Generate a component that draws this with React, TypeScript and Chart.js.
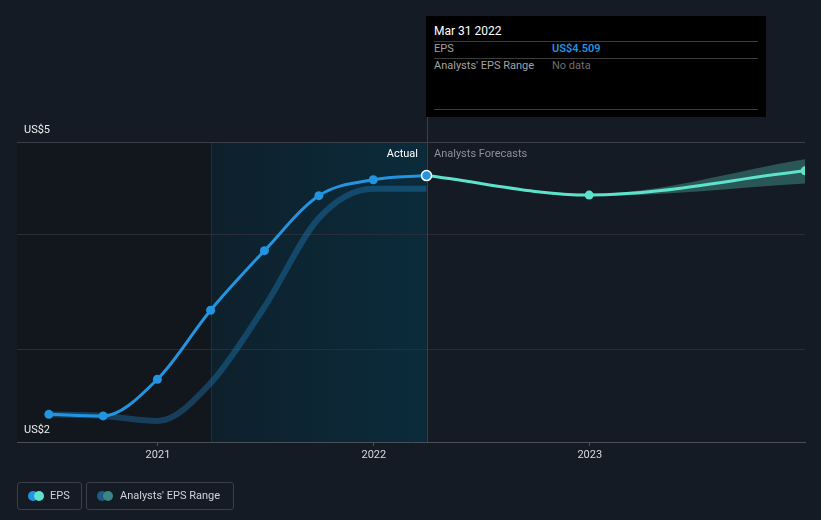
import React, { useEffect, useRef } from "react";
import { Chart, registerables } from "chart.js";

Chart.register(...registerables);

// ---------- data ----------
const epsDates = ["2020-06-30", "2020-09-30", "2020-12-31", "2021-03-31", "2021-06-30", "2021-09-30", "2021-12-31", "2022-03-31"];
const epsValues = [2.44, 2.426, 2.744, 3.342, 3.858, 4.335, 4.473, 4.509];
const pastRangeValues = [2.44, 2.426, 2.382, 2.71, 3.37, 4.14, 4.395, 4.395];

const forecastDates = ["2022-03-31", "2022-12-31", "2023-12-31"];
const forecastValues = [4.509, 4.34, 4.55];
const forecastLow = [4.509, 4.33, 4.44];
const forecastHigh = [4.509, 4.35, 4.65];

const yearTicks = [2021, 2022, 2023];
const yGridValues = [3, 4];
const Y_MIN = 2.2;
const Y_MAX = 4.8;
const yLabelBottom = "US$2";
const yLabelTop = "US$5";
const X_MIN = 2020.347;
const X_MAX = 2023.997;
const highlightStart = "2021-03-31";
const highlightEnd = "2022-03-31";

// ---------- styles ----------
const BG = "#151b24";
const PAST_BG = "#12161d";
const EPS_BLUE = "#2394df";
const MINT = "#5de3cb";
const FONT = "Roboto, 'Noto Sans', sans-serif";
const TIP = { left: 426, top: 16, width: 340, height: 101 };

function toYear(d: string): number {
  const [y, m, day] = d.split("-").map(Number);
  const t = Date.UTC(y, m - 1, day);
  const s = Date.UTC(y, 0, 1);
  const e = Date.UTC(y + 1, 0, 1);
  return y + (t - s) / (e - s);
}

const bgPlugin = {
  id: "bgRegions",
  beforeDraw(chart: any) {
    const { ctx, chartArea } = chart;
    const xs = chart.scales.x;
    const x0 = xs.getPixelForValue(toYear(highlightStart));
    const x1 = xs.getPixelForValue(toYear(highlightEnd));
    ctx.save();
    ctx.fillStyle = PAST_BG;
    ctx.fillRect(chartArea.left, chartArea.top, x0 - chartArea.left, chartArea.bottom - chartArea.top);
    const g = ctx.createLinearGradient(x0, 0, x1, 0);
    g.addColorStop(0, "#0e202c");
    g.addColorStop(1, "#0b2b3b");
    ctx.fillStyle = g;
    ctx.fillRect(x0, chartArea.top, x1 - x0, chartArea.bottom - chartArea.top);
    ctx.strokeStyle = "#14303d";
    ctx.lineWidth = 1;
    ctx.beginPath();
    ctx.moveTo(Math.round(x0) + 0.5, chartArea.top);
    ctx.lineTo(Math.round(x0) + 0.5, chartArea.bottom);
    ctx.stroke();
    ctx.restore();
  },
  beforeDatasetsDraw(chart: any) {
    const { ctx, chartArea } = chart;
    const x1 = chart.scales.x.getPixelForValue(toYear(highlightEnd));
    ctx.save();
    ctx.strokeStyle = "#1b4a5e";
    ctx.lineWidth = 1;
    ctx.beginPath();
    ctx.moveTo(Math.round(x1) + 0.5, TIP.top + TIP.height);
    ctx.lineTo(Math.round(x1) + 0.5, chartArea.bottom);
    ctx.stroke();
    ctx.restore();
  },
};

export default function App() {
  const ref = useRef<HTMLCanvasElement>(null);

  useEffect(() => {
    if (!ref.current) return;
    const ex = epsDates.map(toYear);
    const fx = forecastDates.map(toYear);
    const last = epsValues.length - 1;
    const chart = new Chart(ref.current, {
      type: "line",
      data: {
        datasets: [
          {
            label: "EPS",
            data: ex.map((x, i) => ({ x, y: epsValues[i] })),
            borderColor: EPS_BLUE,
            backgroundColor: EPS_BLUE,
            borderWidth: 3,
            cubicInterpolationMode: "monotone",
            pointRadius: epsValues.map((_, i) => (i === last ? 5 : 4.5)),
            pointBackgroundColor: EPS_BLUE,
            pointBorderColor: epsValues.map((_, i) => (i === last ? "#ffffff" : EPS_BLUE)),
            pointBorderWidth: epsValues.map((_, i) => (i === last ? 1.5 : 0)),
            order: 1,
          },
          {
            label: "Past range",
            data: ex.map((x, i) => ({ x, y: pastRangeValues[i] })),
            borderColor: "rgba(35,148,223,0.32)",
            borderWidth: 6,
            pointRadius: 0,
            cubicInterpolationMode: "monotone",
            fill: false,
            order: 4,
          },
          {
            label: "Low",
            data: fx.map((x, i) => ({ x, y: forecastLow[i] })),
            borderWidth: 0,
            borderColor: "rgba(0,0,0,0)",
            pointRadius: 0,
            cubicInterpolationMode: "monotone",
            fill: false,
            order: 5,
          },
          {
            label: "High",
            data: fx.map((x, i) => ({ x, y: forecastHigh[i] })),
            borderWidth: 0,
            borderColor: "rgba(0,0,0,0)",
            backgroundColor: "rgba(94,224,204,0.3)",
            pointRadius: 0,
            cubicInterpolationMode: "monotone",
            fill: "-1",
            order: 5,
          },
          {
            label: "Forecast",
            data: fx.map((x, i) => ({ x, y: forecastValues[i] })),
            borderColor: MINT,
            backgroundColor: MINT,
            borderWidth: 3,
            cubicInterpolationMode: "monotone",
            pointRadius: [0, 4.5, 4.5],
            pointBackgroundColor: MINT,
            pointBorderWidth: 0,
            order: 2,
          },
        ],
      },
      options: {
        responsive: false,
        animation: false,
        events: [],
        layout: { padding: { left: 17, right: 16, top: 142, bottom: 58 } },
        plugins: { legend: { display: false }, tooltip: { enabled: false } },
        scales: {
          x: {
            type: "linear",
            min: X_MIN,
            max: X_MAX,
            afterBuildTicks: (s: any) => {
              s.ticks = yearTicks.map((v) => ({ value: v }));
            },
            afterFit: (s: any) => {
              s.height = 20;
            },
            grid: { display: true, drawOnChartArea: false, drawTicks: true, tickLength: 4, color: "#4a4f58" },
            border: { display: true, color: "#4a4f58", width: 1 },
            ticks: {
              padding: 3,
              color: "#d8dadd",
              font: { family: FONT, size: 11 },
              maxRotation: 0,
              autoSkip: false,
              callback: (v: any) => String(v),
            },
          },
          y: {
            type: "linear",
            min: Y_MIN,
            max: Y_MAX,
            afterBuildTicks: (s: any) => {
              s.ticks = [Y_MIN, ...yGridValues, Y_MAX].map((v) => ({ value: v }));
            },
            afterFit: (s: any) => {
              s.width = 0;
            },
            grid: {
              drawTicks: false,
              color: (c: any) => {
                const v = c.tick ? c.tick.value : 0;
                if (v === Y_MAX) return "#3a3f48";
                if (v === Y_MIN) return "rgba(0,0,0,0)";
                return "#282d37";
              },
            },
            border: { display: false },
            ticks: {
              mirror: true,
              padding: 7,
              labelOffset: -12,
              color: "#eceef0",
              font: { family: FONT, size: 11 },
              callback: (v: any) => (v === Y_MIN ? yLabelBottom : v === Y_MAX ? yLabelTop : ""),
            },
          },
        },
      },
      plugins: [bgPlugin],
    } as any);
    return () => chart.destroy();
  }, []);

  const line = (top: number) => (
    <div style={{ position: "absolute", left: 8, top, width: 324, height: 1, background: "#3c3c3c" }} />
  );
  const txt = (left: number, top: number, text: string, color: string, extra: any = {}) => (
    <div style={{ position: "absolute", left, top, fontSize: 11, lineHeight: "14px", color, whiteSpace: "nowrap", ...extra }}>{text}</div>
  );

  return (
    <div style={{ position: "absolute", left: 0, top: 0, width: 821, height: 520, background: BG, overflow: "hidden", fontFamily: FONT }}>
      <canvas ref={ref} width={821} height={520} style={{ position: "absolute", left: 0, top: 0, width: 821, height: 520 }} />
      {/* region labels */}
      <div style={{ position: "absolute", left: 340, width: 78, top: 147, fontSize: 11, lineHeight: "14px", color: "#ffffff", textAlign: "right" }}>Actual</div>
      <div style={{ position: "absolute", left: 434, top: 147, fontSize: 11, lineHeight: "14px", color: "#8c9199", whiteSpace: "nowrap" }}>Analysts Forecasts</div>
      {/* tooltip */}
      <div style={{ position: "absolute", left: TIP.left, top: TIP.top, width: TIP.width, height: TIP.height, background: "#000000" }}>
        {txt(8, 8, "Mar 31 2022", "#ffffff", { fontSize: 12 })}
        {line(25)}
        {txt(8, 26, "EPS", "#a3a3a3")}
        {txt(126, 26, "US$4.509", EPS_BLUE, { fontWeight: 600 })}
        {line(42)}
        {txt(8, 43, "Analysts' EPS Range", "#a3a3a3")}
        {txt(126, 43, "No data", "#6e6e6e")}
        {line(93)}
      </div>
      {/* legend */}
      <div style={{ position: "absolute", left: 17, top: 482, width: 63, height: 26, border: "1px solid #3a3f49", borderRadius: 3 }}>
        <div style={{ position: "absolute", left: 10, top: 8, width: 10, height: 10, borderRadius: 5, background: EPS_BLUE }} />
        <div style={{ position: "absolute", left: 16, top: 8, width: 10, height: 10, borderRadius: 5, background: MINT }} />
        {txt(32, 6, "EPS", "#d0d3d8")}
      </div>
      <div style={{ position: "absolute", left: 86, top: 482, width: 146, height: 26, border: "1px solid #3a3f49", borderRadius: 3 }}>
        <div style={{ position: "absolute", left: 10, top: 8, width: 10, height: 10, borderRadius: 5, background: "#1e5a86" }} />
        <div style={{ position: "absolute", left: 16, top: 8, width: 10, height: 10, borderRadius: 5, background: "#3b8584" }} />
        {txt(33, 6, "Analysts' EPS Range", "#d0d3d8")}
      </div>
    </div>
  );
}
